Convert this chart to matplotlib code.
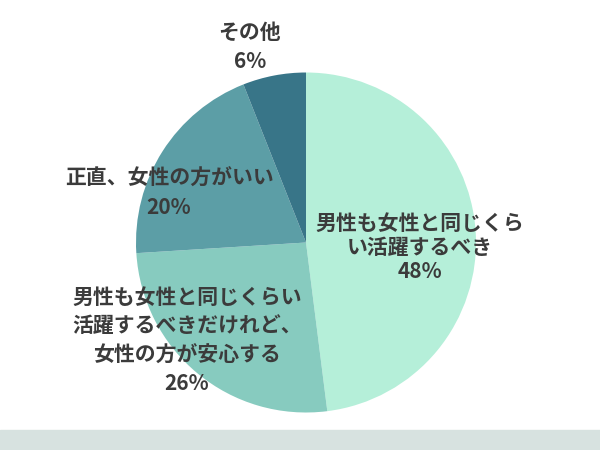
import matplotlib
matplotlib.use("Agg")
import matplotlib.pyplot as plt
from matplotlib.patches import Rectangle

plt.rcParams['font.family'] = ['Noto Sans CJK JP', 'DejaVu Sans']

# data
categories = ['男性も女性と同じくらい活躍するべき',
              '男性も女性と同じくらい活躍するべきだけれど、女性の方が安心する',
              '正直、女性の方がいい',
              'その他']
shares = [48, 26, 20, 6]
colors = ['#b5efd9', '#87cbbf', '#5c9ea6', '#387588']

# label lines, anchor (x, y in pixels from top), line spacing
label_lines = [
    ['男性も女性と同じくら', 'い活躍するべき', '48%'],
    ['男性も女性と同じくらい', '活躍するべきだけれど、', '女性の方が安心する', '26%'],
    ['正直、女性の方がいい', '20%'],
    ['その他', '6%'],
]
label_pos = [(420, 223, 24), (187, 297, 29), (169, 178, 30), (250, 32, 30)]

W, H = 600, 450
fig = plt.figure(figsize=(6, 4.5), dpi=100)
ax = fig.add_axes([0, 0, 1, 1])

ax.add_patch(Rectangle((0, 0), W, H - 430, color='#d7e2e0', zorder=0))

ax.pie(shares, colors=colors, startangle=90, counterclock=False,
       center=(306, H - 242.5), radius=170, frame=True,
       wedgeprops=dict(linewidth=0))

for lines, (x, y0, dy) in zip(label_lines, label_pos):
    for i, line in enumerate(lines):
        ax.text(x, H - (y0 + i * dy), line, ha='center', va='center',
                fontsize=15, fontweight='bold', color='#3b3b3b')

ax.set_xlim(0, W)
ax.set_ylim(0, H)
ax.axis('off')

fig.savefig('out.png', dpi=100)
